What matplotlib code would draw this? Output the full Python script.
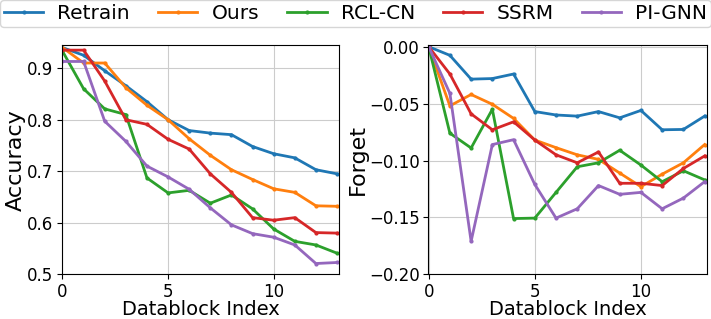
import matplotlib
matplotlib.use("Agg")
import matplotlib.pyplot as plt
import numpy as np

blocks = np.arange(14)
methods = ["Retrain", "Ours", "RCL-CN", "SSRM", "PI-GNN"]

acc_retrain = [0.940, 0.925, 0.895, 0.866, 0.835, 0.800, 0.779, 0.774, 0.771, 0.748, 0.734, 0.726, 0.703, 0.695]
acc_ours = [0.940, 0.910, 0.910, 0.862, 0.828, 0.800, 0.763, 0.731, 0.703, 0.684, 0.666, 0.659, 0.633, 0.632]
acc_rclcn = [0.933, 0.860, 0.821, 0.810, 0.687, 0.658, 0.663, 0.638, 0.654, 0.627, 0.588, 0.564, 0.557, 0.541]
acc_ssrm = [0.935, 0.935, 0.875, 0.800, 0.791, 0.762, 0.743, 0.695, 0.659, 0.610, 0.605, 0.610, 0.581, 0.580]
acc_pignn = [0.913, 0.913, 0.797, 0.758, 0.710, 0.689, 0.665, 0.629, 0.596, 0.579, 0.572, 0.557, 0.521, 0.523]

fgt_retrain = [0.0, -0.0076, -0.0285, -0.028, -0.024, -0.057, -0.060, -0.061, -0.057, -0.0625, -0.056, -0.073, -0.0727, -0.061]
fgt_ours = [0.0, -0.052, -0.042, -0.0506, -0.063, -0.082, -0.0887, -0.095, -0.099, -0.111, -0.123, -0.112, -0.102, -0.086]
fgt_rclcn = [0.0, -0.076, -0.089, -0.055, -0.151, -0.1506, -0.128, -0.1055, -0.102, -0.091, -0.104, -0.1186, -0.109, -0.117]
fgt_ssrm = [0.0, -0.024, -0.059, -0.073, -0.066, -0.082, -0.095, -0.102, -0.0925, -0.120, -0.120, -0.122, -0.107, -0.096]
fgt_pignn = [0.0, -0.041, -0.171, -0.086, -0.0817, -0.121, -0.1506, -0.1424, -0.122, -0.1297, -0.128, -0.1424, -0.133, -0.1186]

acc = [acc_retrain, acc_ours, acc_rclcn, acc_ssrm, acc_pignn]
fgt = [fgt_retrain, fgt_ours, fgt_rclcn, fgt_ssrm, fgt_pignn]

fig = plt.figure(figsize=(7.11, 3.19), dpi=100)
ax1 = fig.add_axes([0.087, 0.140, 0.390, 0.719])
ax2 = fig.add_axes([0.602, 0.140, 0.392, 0.719])

for name, a, f in zip(methods, acc, fgt):
    ax1.plot(blocks, a, marker='.', markersize=4, linewidth=2, label=name)
    ax2.plot(blocks, f, marker='.', markersize=4, linewidth=2, label=name)

ax1.set_xlim(-0.03, 13.1)
ax1.set_ylim(0.5, 0.945)
ax1.set_yticks([0.5, 0.6, 0.7, 0.8, 0.9])
ax1.set_ylabel("Accuracy", fontsize=16, labelpad=1)

ax2.set_xlim(-0.03, 13.1)
ax2.set_ylim(-0.2, 0.0015)
ax2.set_yticks([-0.2, -0.15, -0.1, -0.05, 0.0])
ax2.set_ylabel("Forget", fontsize=16, labelpad=1)

for ax in (ax1, ax2):
    ax.set_xticks([0, 5, 10])
    ax.set_xlabel("Datablock Index", fontsize=14, labelpad=-0.5)
    ax.tick_params(labelsize=12, pad=2.5)
    ax.grid(True, color="#cccccc", linewidth=0.8)

handles, labels = ax1.get_legend_handles_labels()
fig.legend(handles, labels, loc="upper left", bbox_to_anchor=(0.0, 1.0, 1.0, 0.0),
           mode="expand", ncol=5, fontsize=14.5, frameon=True, borderaxespad=0.0,
           borderpad=0.2, handlelength=1.95, handletextpad=0.7, columnspacing=1.8)

fig.savefig("out.png", dpi=100)
